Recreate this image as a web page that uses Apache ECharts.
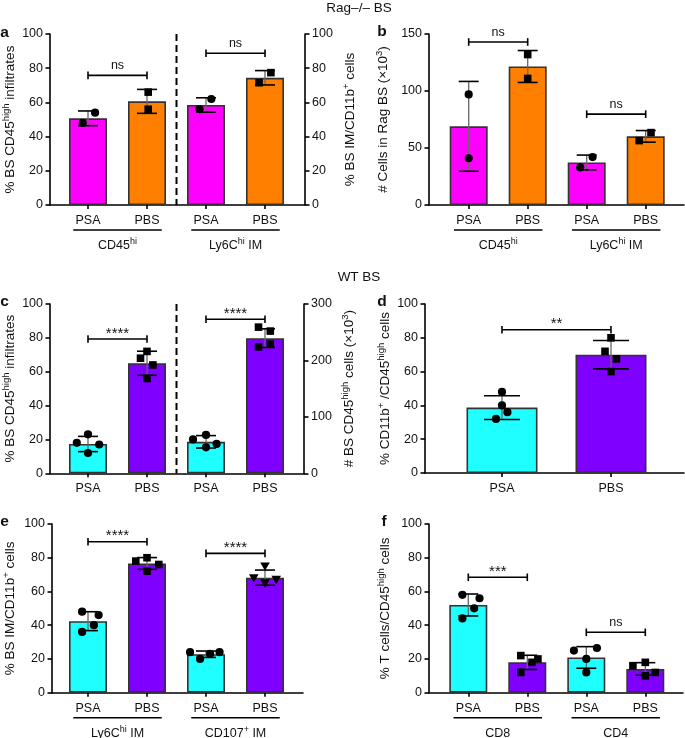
<!DOCTYPE html>
<html><head><meta charset="utf-8">
<script src="https://cdn.jsdelivr.net/npm/echarts@6/dist/echarts.min.js"></script>
<style>html,body{margin:0;padding:0;background:#fff}#c{width:685px;height:738px}</style>
</head><body><div id="c"></div>
<script>
// ---------------- DATA ----------------
// Panel a (Rag-/- BS, % of cells)
const A_CATS = ['PSA', 'PBS', 'PSA', 'PBS'];
const A_GROUPS = ['CD45^{hi}', 'Ly6C^{hi} IM'];
const A_MEAN = [50.7, 60.6, 58.5, 74.4];
const A_SD = [4.3, 7.0, 4.2, 4.2];
const A_PTS = [[48, 54], [66, 56], [56, 62], [71.5, 77.4]];
const A_JIT = [[-0.09, 0.12], [0.02, 0.02], [-0.11, 0.09], [-0.1, 0.1]];
const A_SIG = [[0, 1, 75.8, 'ns'], [2, 3, 88.7, 'ns']];
const A_YL = [0, 100, 20];
const A_YR = [0, 100, 20];
const A_SIDE = [0, 0, 1, 1];

// Panel b (Rag-/- BS, cell numbers x10^3)
const B_CATS = ['PSA', 'PBS', 'PSA', 'PBS'];
const B_GROUPS = ['CD45^{hi}', 'Ly6C^{hi} IM'];
const B_MEAN = [69, 121.5, 37.3, 60.2];
const B_SD = [39.4, 14, 6.5, 5.1];
const B_PTS = [[97, 41], [132, 111], [33, 42], [56.5, 63.5]];
const B_JIT = [[0, 0], [0, 0], [-0.11, 0.1], [-0.11, 0.09]];
const B_SIG = [[0, 1, 143, 'ns'], [2, 3, 79.7, 'ns']];
const B_YL = [0, 150, 50];

// Panel c (WT BS)
const C_CATS = ['PSA', 'PBS', 'PSA', 'PBS'];
const C_MEAN = [17.3, 65, 55.8, 239.5];
const C_SD = [4.5, 7.1, 11, 16.5];
const C_PTS = [[18, 23, 12, 17], [72, 68, 64, 56], [60, 68, 46, 52], [259, 252, 224, 229]];
const C_JIT = [[-0.19, 0, 0, 0.19], [0, -0.11, 0.1, 0], [-0.22, 0, 0, 0.18], [-0.11, 0.09, -0.11, 0.09]];
const C_SIG = [[0, 1, 79.3, '****'], [2, 3, 91, '****']];
const C_YL = [0, 100, 20];
const C_YR = [0, 300, 100];
const C_SIDE = [0, 0, 1, 1];

// Panel d
const D_CATS = ['PSA', 'PBS'];
const D_MEAN = [38.7, 70];
const D_SD = [7, 8.4];
const D_PTS = [[48, 40, 36, 32], [80, 72, 67.5, 60]];
const D_JIT = [[0, 0, 0.05, -0.055], [0, -0.055, 0.05, 0]];
const D_SIG = [[0, 1, 84.8, '**']];
const D_YL = [0, 100, 20];

// Panel e
const E_CATS = ['PSA', 'PBS', 'PSA', 'PBS'];
const E_GROUPS = ['Ly6C^{hi} IM', 'CD107^{+} IM'];
const E_MEAN = [42.4, 76.6, 22.8, 68.2];
const E_SD = [5.6, 3.5, 1.9, 4.5];
const E_PTS = [[48, 46, 40, 36], [78, 80, 76, 72], [24, 20, 23, 24], [75, 68, 67, 65]];
const E_JIT = [[-0.1, 0.18, 0.1, -0.1], [-0.19, 0, 0.2, 0], [-0.27, -0.1, 0.07, 0.23], [0, -0.19, 0.19, 0]];
const E_SIG = [[0, 1, 89.5, '****'], [2, 3, 82.6, '****']];
const E_YL = [0, 100, 20];

// Panel f
const F_CATS = ['PSA', 'PBS', 'PSA', 'PBS'];
const F_GROUPS = ['CD8', 'CD4'];
const F_MEAN = [52, 18, 20.9, 14.1];
const F_SD = [6.5, 4.2, 6.4, 3.7];
const F_PTS = [[58, 56, 50, 44], [22, 20, 18, 12], [25, 26.5, 20, 12], [16, 18, 10, 12]];
const F_JIT = [[-0.1, 0.19, 0.1, -0.1], [-0.11, 0.18, 0.08, -0.11], [-0.21, 0.18, 0, 0], [-0.21, 0, 0, 0.17]];
const F_SIG = [[0, 1, 68.4, '***'], [2, 3, 35.8, 'ns']];
const F_YL = [0, 100, 20];

// ---------------- STYLE / LAYOUT ----------------
const FONT = '"Liberation Sans", Arial, Helvetica, sans-serif';
const MAG = '#FF00FF', ORA = '#FF8000', CYA = '#20FFFF', PUR = '#7F00FF';
const TXT = '#111';
const RICH = {
  n: {fontSize: 13.5, fontFamily: FONT, color: TXT, lineHeight: 18},
  s: {fontSize: 9.5, fontFamily: FONT, color: TXT, lineHeight: 10, verticalAlign: 'top'}
};
const RICH_Z = {
  n: {fontSize: 12.5, fontFamily: FONT, fill: TXT, lineHeight: 17},
  s: {fontSize: 9, fontFamily: FONT, fill: TXT, lineHeight: 9, verticalAlign: 'top'}
};
const LAYOUT = {
  a: {fl: 47, fw: 258, dl: 58.5, dw: 236, top: 34, h: 171, barW: 38, capW: 20, gapL: 31, gapR: 36, divider: true},
  b: {fl: 429, fw: 255, dl: 439.2, dw: 236, top: 34, h: 171, barW: 38, capW: 20, gapL: 37},
  c: {fl: 47, fw: 257, dl: 58.5, dw: 236, top: 304, h: 169.3, barW: 38, capW: 20, gapL: 31, gapR: 36, divider: true},
  d: {fl: 425, fw: 259, dl: 447.5, dw: 218, top: 304, h: 169, barW: 71, capW: 36, gapL: 31},
  e: {fl: 49, fw: 254, dl: 58.5, dw: 236, top: 524, h: 168.7, barW: 38, capW: 20, gapL: 33},
  f: {fl: 429, fw: 254, dl: 438.8, dw: 236, top: 524, h: 168.7, barW: 38, capW: 20, gapL: 35}
};

function rich(str) {
  let out = '', last = 0, m;
  const re = /\^\{([^}]*)\}/g;
  while ((m = re.exec(str))) {
    if (m.index > last) out += '{n|' + str.slice(last, m.index) + '}';
    out += '{s|' + m[1] + '}';
    last = re.lastIndex;
  }
  if (last < str.length) out += '{n|' + str.slice(last) + '}';
  return out;
}

const option = {animation: false, backgroundColor: '#fff', grid: [], xAxis: [], yAxis: [], series: [], graphic: []};

function frameY(gi, Y, pos, nameStr, gap) {
  return {
    gridIndex: gi, type: 'value', position: pos, min: Y[0], max: Y[1], interval: Y[2],
    axisLine: {show: true, lineStyle: {color: '#000', width: 1.6}},
    axisTick: {show: true, length: 4.5, lineStyle: {color: '#000', width: 1.6}},
    axisLabel: {margin: 7, fontSize: 12.5, color: TXT, fontFamily: FONT},
    splitLine: {show: false},
    name: rich(nameStr), nameLocation: 'middle', nameGap: gap, nameRotate: 90,
    nameTextStyle: {rich: RICH, fontSize: 13.5, fontFamily: FONT, color: TXT}
  };
}

function addPanel(P) {
  const L = P.L;
  const gF = option.grid.length, gD = gF + 1;
  option.grid.push({left: L.fl, top: L.top, width: L.fw, height: L.h});
  option.grid.push({left: L.dl, top: L.top, width: L.dw, height: L.h});
  option.xAxis.push({gridIndex: gF, type: 'value', min: 0, max: 1,
    axisLine: {show: true, onZero: false, lineStyle: {color: '#000', width: 1.6}},
    axisTick: {show: false}, axisLabel: {show: false}, splitLine: {show: false}});
  option.yAxis.push(frameY(gF, P.yL, 'left', P.nameL, L.gapL));
  if (P.yR) option.yAxis.push(frameY(gF, P.yR, 'right', P.nameR, L.gapR));
  const xD = option.xAxis.length;
  option.xAxis.push({gridIndex: gD, type: 'category', data: P.cats,
    axisLine: {show: false, onZero: false},
    axisTick: {show: true, alignWithLabel: true, interval: 0, length: 4, lineStyle: {color: '#000', width: 1.6}},
    axisLabel: {interval: 0, margin: 9, fontSize: 12.5, color: TXT, fontFamily: FONT},
    splitLine: {show: false}});
  const yIdx = [option.yAxis.length];
  option.yAxis.push({gridIndex: gD, type: 'value', min: P.yL[0], max: P.yL[1], show: false});
  if (P.yR) {
    yIdx.push(option.yAxis.length);
    option.yAxis.push({gridIndex: gD, type: 'value', position: 'right', min: P.yR[0], max: P.yR[1], show: false});
  }
  const sides = P.yR ? [0, 1] : [0];
  sides.forEach(sd => {
    const on = i => (P.side ? P.side[i] : 0) === sd;
    option.series.push({type: 'bar', xAxisIndex: xD, yAxisIndex: yIdx[sd], barWidth: L.barW, barGap: '-100%', z: 2, silent: true,
      data: P.mean.map((m, i) => on(i) ? {value: m, itemStyle: {color: P.colors[i]}} : '-'),
      itemStyle: {borderColor: '#333', borderWidth: 1.6}});
    option.series.push({type: 'custom', xAxisIndex: xD, yAxisIndex: yIdx[sd], z: 3, silent: true,
      data: P.mean.map((m, i) => [i, m, P.sd[i]]).filter((d, i) => on(i)),
      renderItem: (params, api) => {
        const i = api.value(0), m = api.value(1), s = api.value(2);
        const t = api.coord([i, m + s]), b = api.coord([i, m - s]);
        const hw = L.capW / 2;
        return {type: 'group', children: [
          {type: 'line', shape: {x1: t[0], y1: t[1], x2: b[0], y2: b[1]}, style: {stroke: '#666', lineWidth: 1.3}},
          {type: 'line', shape: {x1: t[0] - hw, y1: t[1], x2: t[0] + hw, y2: t[1]}, style: {stroke: '#000', lineWidth: 1.6}},
          {type: 'line', shape: {x1: b[0] - hw, y1: b[1], x2: b[0] + hw, y2: b[1]}, style: {stroke: '#000', lineWidth: 1.6}}
        ]};
      }});
    const pd = [];
    P.pts.forEach((arr, i) => { if (on(i)) arr.forEach((v, k) => pd.push([i, v, P.jit[i][k]])); });
    option.series.push({type: 'custom', xAxisIndex: xD, yAxisIndex: yIdx[sd], z: 4, silent: true, data: pd,
      renderItem: (params, api) => {
        const i = api.value(0), v = api.value(1), j = api.value(2);
        const c = api.coord([i, v]);
        const bw = api.size([1, 0])[0];
        const x = c[0] + j * bw, y = c[1];
        const s = P.sym[i];
        if (s === 'square') return {type: 'rect', shape: {x: x - 3.8, y: y - 3.8, width: 7.6, height: 7.6}, style: {fill: '#000'}};
        if (s === 'triangle') return {type: 'polygon', shape: {points: [[x - 4.8, y - 3.8], [x + 4.8, y - 3.8], [x, y + 4.6]]}, style: {fill: '#000'}};
        return {type: 'circle', shape: {cx: x, cy: y, r: 4.1}, style: {fill: '#000'}};
      }});
  });
  // annotations: divider, significance brackets, group underlines and labels
  option.series.push({type: 'custom', xAxisIndex: xD, yAxisIndex: yIdx[0], z: 5, silent: true, data: [[0, 0]],
    renderItem: (params, api) => {
      const ch = [];
      const bw = api.size([1, 0])[0];
      const base = api.coord([0, P.yL[0]])[1];
      const top = api.coord([0, P.yL[1]])[1];
      if (L.divider) {
        const x = (api.coord([1, 0])[0] + api.coord([2, 0])[0]) / 2;
        ch.push({type: 'line', shape: {x1: x, y1: top, x2: x, y2: base}, style: {stroke: '#000', lineWidth: 2, lineDash: [7, 4]}});
      }
      P.sig.forEach(s => {
        const a = api.coord([s[0], s[2]]), b = api.coord([s[1], s[2]]);
        ch.push({type: 'line', shape: {x1: a[0], y1: a[1], x2: b[0], y2: b[1]}, style: {stroke: '#000', lineWidth: 1.6}});
        ch.push({type: 'line', shape: {x1: a[0], y1: a[1] - 3.8, x2: a[0], y2: a[1] + 3.8}, style: {stroke: '#000', lineWidth: 1.6}});
        ch.push({type: 'line', shape: {x1: b[0], y1: b[1] - 3.8, x2: b[0], y2: b[1] + 3.8}, style: {stroke: '#000', lineWidth: 1.6}});
        const star = s[3].indexOf('*') >= 0;
        ch.push({type: 'text', x: (a[0] + b[0]) / 2, y: a[1] + (star ? 2 : -3),
          style: {text: s[3], fontSize: star ? 15 : 12.5, fontFamily: FONT, fill: TXT, align: 'center', verticalAlign: 'bottom'}});
      });
      if (P.groups) P.groups.forEach((g, k) => {
        const x0 = api.coord([2 * k, 0])[0] - 0.25 * bw, x1 = api.coord([2 * k + 1, 0])[0] + 0.25 * bw;
        ch.push({type: 'line', shape: {x1: x0, y1: base + 25, x2: x1, y2: base + 25}, style: {stroke: '#000', lineWidth: 1.6}});
        ch.push({type: 'text', x: (x0 + x1) / 2, y: base + 41,
          style: {text: rich(g), rich: RICH_Z, fontSize: 12.5, fontFamily: FONT, fill: TXT, align: 'center', verticalAlign: 'middle'}});
      });
      return {type: 'group', children: ch};
    }});
}

addPanel({cats: A_CATS, groups: A_GROUPS, mean: A_MEAN, sd: A_SD, pts: A_PTS, jit: A_JIT, sig: A_SIG, side: A_SIDE,
  sym: ['circle', 'square', 'circle', 'square'], colors: [MAG, ORA, MAG, ORA],
  yL: A_YL, yR: A_YR, nameL: '% BS CD45^{high} infiltrates', nameR: '% BS IM/CD11b^{+} cells', L: LAYOUT.a});
addPanel({cats: B_CATS, groups: B_GROUPS, mean: B_MEAN, sd: B_SD, pts: B_PTS, jit: B_JIT, sig: B_SIG,
  sym: ['circle', 'square', 'circle', 'square'], colors: [MAG, ORA, MAG, ORA],
  yL: B_YL, nameL: '# Cells in Rag BS (×10^{3})', L: LAYOUT.b});
addPanel({cats: C_CATS, mean: C_MEAN, sd: C_SD, pts: C_PTS, jit: C_JIT, sig: C_SIG, side: C_SIDE,
  sym: ['circle', 'square', 'circle', 'square'], colors: [CYA, PUR, CYA, PUR],
  yL: C_YL, yR: C_YR, nameL: '% BS CD45^{high} infiltrates', nameR: '# BS CD45^{high} cells (×10^{3})', L: LAYOUT.c});
addPanel({cats: D_CATS, mean: D_MEAN, sd: D_SD, pts: D_PTS, jit: D_JIT, sig: D_SIG,
  sym: ['circle', 'square'], colors: [CYA, PUR],
  yL: D_YL, nameL: '% CD11b^{+} /CD45^{high} cells', L: LAYOUT.d});
addPanel({cats: E_CATS, groups: E_GROUPS, mean: E_MEAN, sd: E_SD, pts: E_PTS, jit: E_JIT, sig: E_SIG,
  sym: ['circle', 'square', 'circle', 'triangle'], colors: [CYA, PUR, CYA, PUR],
  yL: E_YL, nameL: '% BS IM/CD11b^{+} cells', L: LAYOUT.e});
addPanel({cats: F_CATS, groups: F_GROUPS, mean: F_MEAN, sd: F_SD, pts: F_PTS, jit: F_JIT, sig: F_SIG,
  sym: ['circle', 'square', 'circle', 'square'], colors: [CYA, PUR, CYA, PUR],
  yL: F_YL, nameL: '% T cells/CD45^{high} cells', L: LAYOUT.f});

function txt(t, x, y, size, bold) {
  return {type: 'text', x: x, y: y, z: 10,
    style: {text: t, fontSize: size, fontWeight: bold ? 'bold' : 'normal', fontFamily: FONT, fill: TXT,
      align: 'center', verticalAlign: 'middle', textAlign: 'center', textVerticalAlign: 'middle'}};
}
option.graphic = [
  txt('Rag–/– BS', 359, 8, 13.5), txt('WT BS', 359, 277, 13.5),
  txt('a', 4.5, 33, 15.5, true), txt('b', 382, 32, 15.5, true),
  txt('c', 4.5, 302, 15.5, true), txt('d', 382, 302, 15.5, true),
  txt('e', 4.5, 522, 15.5, true), txt('f', 384, 522, 15.5, true)
];

const chart = echarts.init(document.getElementById('c'), null, {renderer: 'canvas'});
chart.setOption(option);
</script></body></html>
